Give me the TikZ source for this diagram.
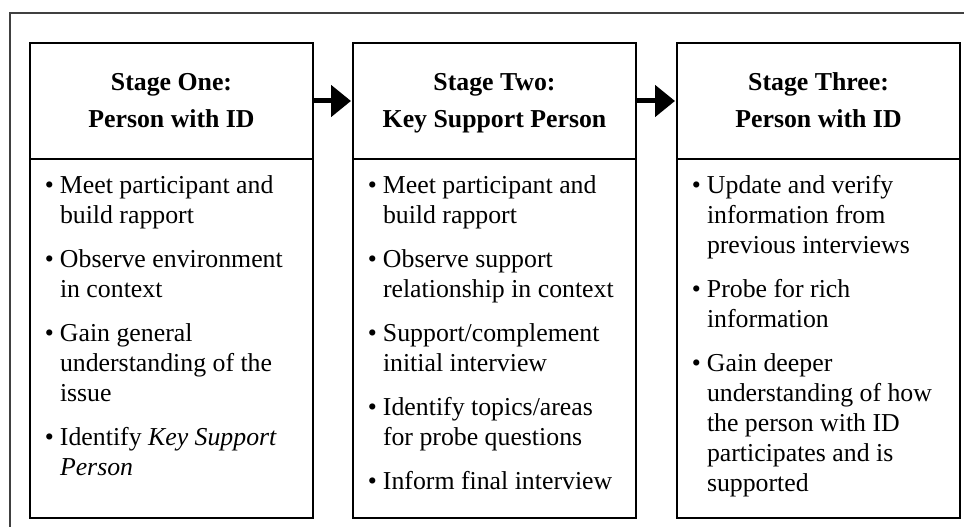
\documentclass[tikz,border=0pt]{standalone}
\usepackage{fontspec}
\setmainfont{Liberation Serif}
\usetikzlibrary{positioning,arrows.meta}

% body of one stage: fixed height, text from the top
\newcommand\stagebody[1]{%
  \begin{minipage}[t][359pt][t]{283pt}
  \raggedright\leftskip=30pt\parskip=14pt
  \fontsize{25.8pt}{30pt}\selectfont
  \vspace*{5pt}\prevdepth=0pt
  #1
  \end{minipage}}
\newcommand\stageitem[1]{\par\noindent\llap{\textbullet\hskip6pt}#1\par}

\tikzset{
  stagehead/.style={draw, line width=1.6pt, outer sep=0pt, inner sep=0pt,
    minimum width=283pt, minimum height=116pt, align=center,
    text height=85pt, text depth=31pt,
    font=\fontsize{25.8pt}{37pt}\selectfont\bfseries},
  stagebox/.style={draw, line width=1.6pt, outer sep=0pt, inner sep=0pt},
  stagearrow/.style={-{Triangle[length=20pt,width=31pt]}, line width=5pt, shorten >=2pt}
}

\begin{document}
\begin{tikzpicture}
\useasboundingbox (0,0) rectangle (964pt,527pt);
\draw[line width=1.2pt, black!75] (10pt,514pt) rectangle (990pt,-20pt);

\node[stagehead] (head1) at (171.5pt,426pt) {Stage One:\\Person with ID};
\node[stagehead,right=40pt of head1] (head2) {Stage Two:\\Key Support Person};
\node[stagehead,right=41pt of head2] (head3) {Stage Three:\\Person with ID};

\node[stagebox,below=0pt of head1] (body1) {\stagebody{%
  \stageitem{Meet participant and\\build rapport}
  \stageitem{Observe environment\\in context}
  \stageitem{Gain general\\understanding of the\\issue}
  \stageitem{Identify \textit{Key Support}\\\textit{Person}}}};
\node[stagebox,below=0pt of head2] (body2) {\stagebody{%
  \stageitem{Meet participant and\\build rapport}
  \stageitem{Observe support\\relationship in context}
  \stageitem{Support/complement\\initial interview}
  \stageitem{Identify topics/areas\\for probe questions}
  \stageitem{Inform final interview}}};
\node[stagebox,below=0pt of head3] (body3) {\stagebody{%
  \stageitem{Update and verify\\information from\\previous interviews}
  \stageitem{Probe for rich\\information}
  \stageitem{Gain deeper\\understanding of how\\the person with ID\\participates and is\\supported}}};

\draw[stagearrow] (head1) -- (head2);
\draw[stagearrow] (head2) -- (head3);
\end{tikzpicture}
\end{document}
